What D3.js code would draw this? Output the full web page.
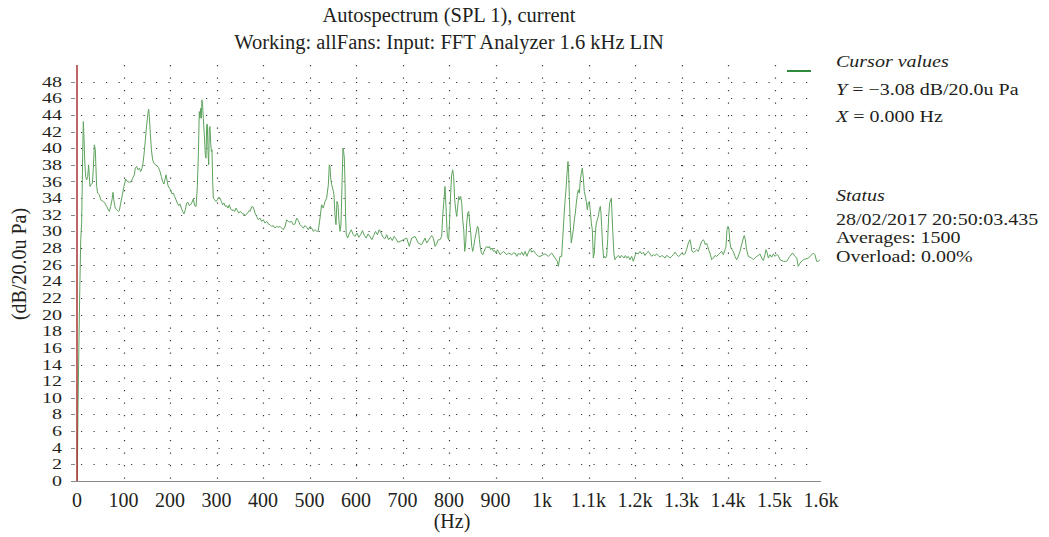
<!DOCTYPE html>
<html>
<head>
<meta charset="utf-8">
<script src="https://cdn.jsdelivr.net/npm/d3@7"></script>
<style>
  html, body { margin: 0; padding: 0; background: #fff; }
  svg { display: block; }
  text { font-family: "Liberation Serif", "Times New Roman", serif; fill: #231f20; }
</style>
</head>
<body>
<svg id="chart" width="1049" height="537"></svg>
<script>
// ---------- data ----------
const titleLines = ["Autospectrum (SPL 1), current", "Working: allFans: Input: FFT Analyzer 1.6 kHz LIN"];
const yTicks = d3.range(0, 50, 2);
const xTicks = [0,100,200,300,400,500,600,700,800,900,1000,1100,1200,1300,1400,1500,1600];
const xTickLabels = ["0","100","200","300","400","500","600","700","800","900","1k","1.1k","1.2k","1.3k","1.4k","1.5k","1.6k"];
const yLabel = "(dB/20.0u Pa)";
const xLabel = "(Hz)";
const cursorLines = ["Y = \u22123.08 dB/20.0u Pa", "X = 0.000 Hz"];
const statusLines = ["28/02/2017 20:50:03.435", "Averages: 1500", "Overload: 0.00%"];
const cursorX = 0;

const freq = [0,2,4,6,8,10,11.5,12.2,13.6,15,16.5,18.6,20.8,23,25,26.5,28,30,33,35,37.3,39.4,40.9,42.3,44.4,48,51,56.6,60,63.8,67.4,69.5,72.4,75.3,77.4,79.6,82.4,85.3,88.9,91,94,97.5,101,104.7,108.2,112.5,116.8,119.7,123.3,125.4,128.3,131.2,134,137,139.8,142,144,147,149.8,152.7,154,155.6,157.7,160,162.7,165.6,168.5,171.3,175,178.5,181.4,184.2,187,189,191.4,193.5,195.7,198.6,201.4,204.3,207,210,213,215.8,218.6,221.5,224.4,227.2,230,233,235.8,238.7,241.6,244.4,247.3,250.2,253,256,258.8,261,263,264.5,266,267.4,268.8,270.3,271.7,273.8,276,277.4,278.9,280.3,281.7,283.2,284.6,286,287.5,289,290.3,291.8,293.2,296,299,301.8,304.7,307.5,310.4,313.3,316,319,322,324.7,327.6,330.5,333.3,336,339,342,344.8,347.7,350.5,353.4,356.3,359,362,365,367.7,370.6,372,376.3,379.2,382.8,386.4,390,393.5,397.1,400.7,404.3,407.9,411.5,415,418.6,422.2,425.8,429.4,433,436.6,440.1,443.7,447.3,450.9,454.5,458,461.6,465.2,468.8,472.4,476,479.6,483,486.7,490.3,493.9,497.5,501,504.7,508.2,511.8,515.4,519,522.6,526,529.7,533.3,536.9,540.5,542.6,544,545.5,547.7,549.8,552.7,554.8,557,559,561.3,563.4,565.6,567.7,569.9,572,573.4,574.9,576.3,577.7,579.1,582,586,590,594,598,602,606,610,614,618,622,626,630,634,638,642,646,650,654,658,662,666,670,674,678,682,686,690,694.6,701.8,709,714.7,719.7,726.9,734,741.2,748.4,752,759,762.8,766.3,770,773.5,777,780.6,784.2,786.4,789.2,791.4,793.5,796.4,799.3,801.4,803.6,805.7,807.9,810,812.2,814.4,816.5,818.7,820.9,823,825.2,827.3,829.5,831.7,833.8,836,838.1,840.3,842.4,844.6,846.8,848.9,851,853.2,855.4,858.2,861.1,863.2,865.4,867.5,869.7,872.6,875.5,878.3,881.2,884,887,889.8,892.7,895.5,898.4,901.3,904.2,907,909.9,913.5,917,920.7,924.3,927.8,931.4,935,938.6,942.2,945.8,949.5,953,956.6,960.2,963.8,967.4,971,974.6,978,981.7,985.3,988.9,992.5,995.7,1002.9,1006.5,1013.6,1020.8,1028,1033,1035.1,1038.7,1042.3,1044.4,1047.3,1049.5,1051.6,1053.8,1055.9,1057.3,1058.8,1060.9,1063.1,1065.2,1067.4,1069.5,1071.7,1073.8,1076,1078.1,1080.3,1082.4,1084.6,1086.7,1088.9,1091,1093.2,1095.3,1097.5,1099.6,1101.8,1104,1106.1,1108.2,1110.4,1112.5,1114.7,1116.8,1119,1121.1,1123.3,1125.4,1126.9,1128.3,1130.5,1132.6,1134.8,1136.9,1139,1141.2,1143.4,1145.5,1147.7,1149.1,1150.5,1152.7,1154.8,1157,1159,1162,1164.8,1167.7,1170.6,1173.5,1176.3,1179.2,1182,1185.6,1189.2,1192.8,1196.4,1198.5,1200.7,1203.6,1207.1,1210.7,1214.3,1217.9,1221.5,1225,1228.7,1232.2,1235.8,1239.4,1243,1246.6,1250.1,1253.7,1257.3,1260.9,1264.5,1268,1271.6,1275.2,1278.8,1282.4,1286,1289.6,1293.2,1296.7,1300.3,1304,1307.5,1311,1314.7,1318.2,1320.4,1322.5,1325.4,1329,1332.6,1336.2,1339.8,1343.4,1347,1349,1351.2,1354,1356.2,1358.4,1361.2,1364.8,1368.4,1372,1375.6,1379.2,1382.8,1386.3,1390,1393.5,1395.7,1397.8,1400,1402.1,1404.3,1406.4,1408.6,1411.4,1415,1418.6,1422.2,1425.8,1429.3,1433,1435,1437.2,1440,1443.7,1447.3,1450.9,1454.4,1458,1461.6,1465.2,1468.8,1472.4,1476,1479.5,1481.7,1483.8,1486.7,1490.3,1493.9,1497.5,1501,1504.6,1508.2,1511.8,1519,1526,1533,1539,1544,1548,1551,1555,1562,1573,1583.5,1587,1590.6,1594,1598];

const level = [-3.08,8,16,23,29,31,36.2,39.4,43.2,41.4,38.6,36.6,36.2,36.6,38,36.6,35.4,35.6,35.8,37.4,40.4,39.8,37.4,35.4,34.6,34.4,33.8,33.6,33.4,33,32.6,32.4,33,33.8,34.7,33.6,32.8,32.6,32.4,32.5,33.4,34.4,35.4,36.3,36,35.9,36,36.4,36.8,37.6,37.8,37.4,37.6,37.2,37.6,38.2,39.2,41,42.8,44.2,44.7,43.8,41.8,39.8,38.6,38.2,38,37.9,37.7,37.2,36.6,36,35.7,36.2,36.8,36.2,35.5,35.2,35,34.5,34.6,34.2,33.8,33.4,33.1,33.3,32.8,32.4,32.1,32.6,33.4,33.5,33.1,33.2,33.5,33.9,33.1,33,35.4,39.2,44.4,43.6,44.8,43.6,45.8,45,43.6,41.6,39.2,38.8,42.8,42.9,39.6,38,42.4,42.6,40.6,39.6,39.8,36,34,33.8,33.6,33.8,34.1,34,33.6,33.2,33.4,33,33.1,32.8,33.2,32.7,32.5,32.6,32.4,32.8,32.5,32.2,32.4,32.3,32.1,32.1,31.9,32.1,32.3,32.5,32.4,33,32.9,32.2,31.8,31.4,31.6,31.2,31.4,31,31.2,30.9,30.8,30.6,30.7,30.4,30.6,30.5,30.6,30.4,30.2,30.6,31.4,31.2,31.1,31.2,30.8,30.9,31.6,31.3,30.8,30.6,30.4,30.7,30.5,30.2,30.6,30.4,30,30.2,30,30.1,31.6,33.2,32.8,33.6,34,35.6,38,37.8,36.4,35.6,35.2,34.4,32,30.8,33.6,33.2,31.2,30,30.8,35.6,40,39.6,38.8,36,31.6,29.6,29.2,29.8,30.2,29.6,29.4,29.8,29.3,29.6,30.1,29.5,29.2,29.7,29.4,29,29.5,30,29.6,30.2,29.8,29.3,29.1,29.6,29,29.3,28.9,29.4,29.1,28.7,28.8,29,29.2,28.2,29.2,29.4,28.6,28.4,29.2,28.6,29.2,29.5,29.2,28.2,28.5,29,29,29.4,31.8,33.8,35.4,33,29.4,29,31.4,34.6,36.8,37.4,36.6,33.8,32.6,31.8,33,34.2,33.8,34.2,33.4,31.4,30.2,27.6,28.6,31,32.2,32.4,31,29.8,28.2,27.6,28.2,29,29.8,30.6,30.4,29,28,27.4,27.2,27.6,28,28.2,28,28.2,27.8,28,27.6,27.7,27.4,27.8,27.5,27.2,27.4,27.6,27.4,27.2,27.4,27.3,27.2,27.4,27.4,27,27.4,27.2,27.5,27.1,27.6,27,27.5,27.9,27.5,27.7,27.4,27.2,27,27,27.2,27.3,27,27.4,26.8,26.4,25.8,27,27,29,31.8,33.6,35,37,38.4,37,34.2,30.6,28.6,29.4,30.2,31.4,32.2,33.4,34.4,35,34.6,36.2,37,37.6,36.4,34.8,34.2,33.6,32.6,33.4,33.6,32.4,31,30.2,26.8,27.4,29.8,31,31.4,31.8,32.6,33,32.2,30.6,28.2,26.8,27,26.8,27,29,31.8,33.4,33.8,34,32.2,29.4,27.2,26.6,26.8,27,27.1,26.8,27.1,27,26.8,27.1,26.8,27,26.6,27,26.4,26.8,27.2,27.4,27.3,27.6,27.3,27.5,27.1,27.4,27.6,27.3,27,27.2,27.1,27.3,27.1,26.9,27.1,27,26.8,27.1,27,26.8,27,27.2,27.5,27.2,27,27.1,27.4,27.2,27.3,27.8,28.6,29,28.4,27.6,27.5,27.6,27.8,27.6,28.2,28.8,29,28.8,28.4,28.6,28.2,27.8,27.4,26.6,26.8,27.1,27,27.2,27.4,27.6,27.2,27.8,28.2,30.2,30.6,30.2,28.6,28,27.8,27.6,27,26.6,27,27.6,28.4,29.2,29.5,29,27.8,27,26.9,26.8,26.6,26.8,27,27.1,27.3,26.8,26.5,27.2,27.8,27.5,26.8,27.2,26.9,27.3,27,27.2,27.1,26.6,26.4,26.4,27,27.4,27,26.8,25.8,26.2,26.6,26.8,27.4,27.2,26.4,26.4,26.6];

// ---------- layout ----------
const svg = d3.select("#chart");
const x = d3.scaleLinear().domain([0, 1600]).range([77, 821]);
const y = d3.scaleLinear().domain([0, 50]).range([481, 65]);
const FS = 20;

// clip
svg.append("defs").append("clipPath").attr("id", "plotclip")
  .append("rect").attr("x", x(0)).attr("y", y(50)).attr("width", x(1600) - x(0)).attr("height", y(0) - y(50));

// grid: horizontal dotted rows
const grid = svg.append("g").attr("stroke", "#3a3a3a").attr("stroke-width", 1.2).attr("fill", "none");
grid.selectAll("line.h").data(yTicks.filter(d => d > 0)).enter().append("line")
  .attr("class", "h")
  .attr("x1", x(0) + 4).attr("x2", x(1580))
  .attr("y1", d => Math.round(y(d)) + 0.5).attr("y2", d => Math.round(y(d)) + 0.5)
  .attr("stroke-dasharray", "1.2 11.3");
// vertical dotted columns
grid.selectAll("line.v").data(xTicks.filter(d => d > 0 && d < 1600)).enter().append("line")
  .attr("class", "v")
  .attr("x1", d => Math.round(x(d)) + 0.5).attr("x2", d => Math.round(x(d)) + 0.5)
  .attr("y1", y(50)).attr("y2", y(0) - 2)
  .attr("stroke-dasharray", "1.2 11.3");

// y ticks (small marks)
svg.append("g").selectAll("line").data(yTicks).enter().append("line")
  .attr("x1", 71).attr("x2", 75)
  .attr("y1", d => Math.round(y(d)) + 0.5).attr("y2", d => Math.round(y(d)) + 0.5)
  .attr("stroke", "#888").attr("stroke-width", 1);

// x axis line
svg.append("line").attr("x1", 73).attr("x2", x(1600)).attr("y1", y(0) + 0.5).attr("y2", y(0) + 0.5)
  .attr("stroke", "#8a8a8a").attr("stroke-width", 1.2);

// spectrum line
const pts = freq.map((f, i) => [f, level[i]]);
const line = d3.line().x(d => x(d[0])).y(d => y(d[1]));
svg.append("path").datum(pts)
  .attr("clip-path", "url(#plotclip)")
  .attr("d", line)
  .attr("fill", "none").attr("stroke", "#5da35d").attr("stroke-width", 1).attr("stroke-linejoin", "round");

// cursor line
svg.append("line").attr("x1", x(cursorX)).attr("x2", x(cursorX)).attr("y1", y(50)).attr("y2", y(0))
  .attr("stroke", "#a83232").attr("stroke-width", 1.5);

// y tick labels (vertically compressed like the reference)
svg.append("g").selectAll("g").data(yTicks).enter().append("g")
  .attr("transform", d => `translate(62,${y(d)}) scale(1,0.74)`)
  .append("text")
  .attr("x", 0).attr("y", 0).attr("dy", "0.34em")
  .attr("text-anchor", "end").attr("font-size", FS)
  .text(d => d);

// x tick labels
svg.append("g").selectAll("text").data(xTicks).enter().append("text")
  .attr("x", d => x(d)).attr("y", 507)
  .attr("text-anchor", "middle").attr("font-size", FS)
  .text((d, i) => xTickLabels[i]);

// axis titles
svg.append("text").attr("x", 452).attr("y", 528).attr("text-anchor", "middle").attr("font-size", FS).text(xLabel);
svg.append("text").attr("transform", "translate(26,264) rotate(-90)").attr("text-anchor", "middle")
  .attr("font-size", FS).text(yLabel);

// title
svg.selectAll("text.title").data(titleLines).enter().append("text").attr("class", "title")
  .attr("x", 449).attr("y", (d, i) => 22 + i * 27).attr("text-anchor", "middle").attr("font-size", 20.5)
  .text(d => d);

// legend swatch
svg.append("line").attr("x1", 787).attr("x2", 811).attr("y1", 71).attr("y2", 71)
  .attr("stroke", "#2e8b3e").attr("stroke-width", 2);

// right panel (text slightly compressed vertically, as in the reference)
const px = 836;
const SY = 0.8;
function panelText(yPos) {
  return svg.append("g").attr("transform", `translate(${px},${yPos}) scale(1,${SY})`)
    .append("text").attr("x", 0).attr("y", 0).attr("font-size", FS);
}
panelText(67).attr("font-style", "italic").text("Cursor values");
cursorLines.forEach((d, i) => {
  const t = panelText(95 + i * 27);
  t.append("tspan").attr("font-style", "italic").text(d.slice(0, 1));
  t.append("tspan").text(d.slice(1));
});
panelText(201).attr("font-style", "italic").text("Status");
statusLines.forEach((d, i) => { panelText(224.5 + i * 18.8).text(d); });
</script>
</body>
</html>
